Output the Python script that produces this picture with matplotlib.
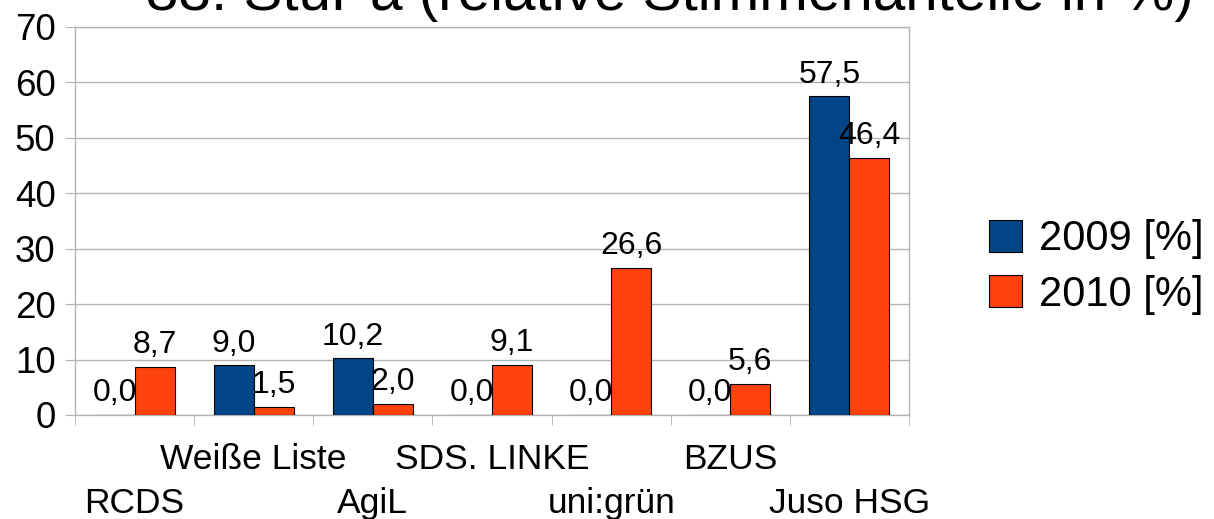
import matplotlib
matplotlib.use("Agg")
import matplotlib.pyplot as plt
import numpy as np
from matplotlib.patches import Patch

categories = ["RCDS", "Weiße Liste", "AgiL", "SDS. LINKE", "uni:grün", "BZUS", "Juso HSG"]
values_2009 = [0.0, 9.0, 10.2, 0.0, 0.0, 0.0, 57.5]
values_2010 = [8.7, 1.5, 2.0, 9.1, 26.6, 5.6, 46.4]
series_names = ["2009 [%]", "2010 [%]"]
title = "33. StuPa (relative Stimmenanteile in %)"

plt.rcParams['font.family'] = ['Liberation Sans', 'DejaVu Sans']

fig = plt.figure(figsize=(12.14, 5.19), dpi=100)
ax = fig.add_axes([75/1214, 1-415/519, (909-75)/1214, (415-27)/519])

blue = "#004586"
orange = "#ff420e"
grid = "#b3b3b3"

x = np.arange(len(categories))
w = 0.336
b1 = ax.bar(x - w/2, values_2009, w, color=blue, edgecolor="black", linewidth=0.8, zorder=3)
b2 = ax.bar(x + w/2, values_2010, w, color=orange, edgecolor="black", linewidth=0.8, zorder=3)

def fmt(v):
    return f"{v:.1f}".replace(".", ",")

for bars, vals in ((b1, values_2009), (b2, values_2010)):
    for rect, v in zip(bars, vals):
        ax.annotate(fmt(v), (rect.get_x() + rect.get_width()/2, v),
                    xytext=(0, 9.8), textcoords="offset points",
                    ha="center", va="baseline", fontsize=23, zorder=4)

ax.set_ylim(0, 70)
ax.set_xlim(-0.5, len(categories) - 0.5)
ax.set_yticks(np.arange(0, 71, 10))
ax.yaxis.grid(True, color=grid, linewidth=1.0, zorder=0)
ax.tick_params(axis="y", labelsize=26.5, length=7, color=grid, pad=7)

ax.set_xticks(x)
ax.set_xticklabels(categories, fontsize=25.5)
ax.set_xticks(np.arange(-0.5, len(categories), 1.0), minor=True)
ax.tick_params(axis="x", which="major", length=0)
ax.tick_params(axis="x", which="minor", length=7, color=grid)
for i, t in enumerate(ax.xaxis.get_major_ticks()):
    t.set_pad(20.5 if i % 2 == 1 else 51.5)

for s in ax.spines.values():
    s.set_color(grid)
    s.set_linewidth(1.0)

handles = [Patch(facecolor=blue, edgecolor="black", linewidth=0.8),
           Patch(facecolor=orange, edgecolor="black", linewidth=0.8)]
fig.legend(handles, series_names, loc="center left",
           bbox_to_anchor=(989/1214, 1-267/519), frameon=False,
           fontsize=30, handlelength=0.79, handleheight=0.79,
           handletextpad=0.4, labelspacing=0.37, borderpad=0, borderaxespad=0)

fig.text(670/1214, 1-10/519, title, ha="center", va="baseline", fontsize=42)

fig.savefig("out.png", dpi=100)
